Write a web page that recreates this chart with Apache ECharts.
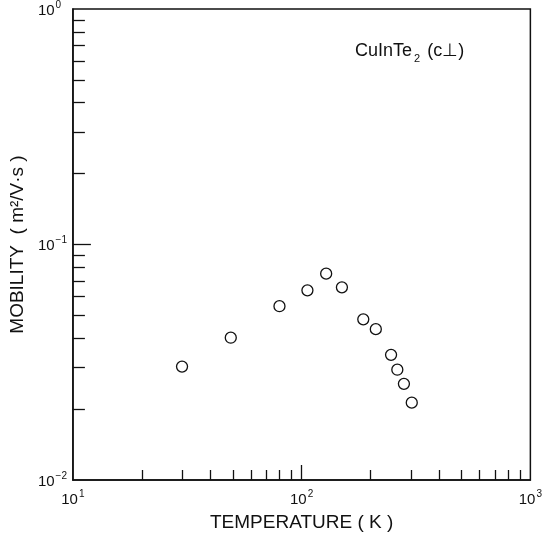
<!DOCTYPE html>
<html>
<head>
<meta charset="utf-8">
<script src="https://cdn.jsdelivr.net/npm/echarts@6/dist/echarts.min.js"></script>
<style>
html,body{margin:0;padding:0;background:#fff;}
#chart{width:545px;height:537px;}
</style>
</head>
<body>
<div id="chart"></div>
<script>
// Data (temperature in K, mobility in m^2/V·s)
const temperature = [30, 49, 80, 106, 128, 150, 186, 211, 246, 262, 280, 303];
const mobility = [0.0303, 0.0402, 0.0547, 0.0639, 0.0752, 0.0658, 0.0481, 0.0437, 0.0340, 0.0294, 0.0256, 0.0213];

// Axis ticks and labels
const xLabelValues = [10, 100, 1000];
const xLabelExponents = ['1', '2', '3'];
const xMinorTicks = [20, 30, 40, 50, 60, 70, 80, 90, 200, 300, 400, 500, 600, 700, 800, 900];
const xMajorTicks = [100];
const yLabelValues = [0.01, 0.1, 1];
const yLabelExponents = ['\u22122', '\u22121', '0'];
const yMinorTicks = [0.02, 0.03, 0.04, 0.05, 0.06, 0.07, 0.08, 0.09, 0.2, 0.3, 0.4, 0.5, 0.6, 0.7, 0.8, 0.9];
const yMajorTicks = [0.1];

const xTitle = 'TEMPERATURE ( K )';
const yTitle = 'MOBILITY  ( m\u00B2/V\u00B7s )';
const sampleLabel = ['CuInTe', '2', ' (c\u22A5)'];

const FONT = '"Liberation Sans", Arial, sans-serif';
const INK = '#111';

function expLabel(values, exps) {
  return function (v) {
    for (let i = 0; i < values.length; i++) {
      if (Math.abs(Math.log10(v) - Math.log10(values[i])) < 1e-6) {
        return '{b|10}{s|' + exps[i] + '}';
      }
    }
    return '';
  };
}
const labelRich = {
  b: { fontSize: 15, fontFamily: FONT, color: INK, lineHeight: 18, verticalAlign: 'bottom' },
  s: { fontSize: 10, fontFamily: FONT, color: INK, lineHeight: 18, verticalAlign: 'top', padding: [0, 0, 0, 1] }
};

const chart = echarts.init(document.getElementById('chart'), null, { renderer: 'canvas' });
const option = {
  animation: false,
  backgroundColor: '#fff',
  grid: {
    left: 70, right: 5, top: 6, bottom: 57,
    show: true, borderColor: INK, borderWidth: 1.5, backgroundColor: 'transparent'
  },
  xAxis: [
    {
      type: 'log', logBase: 10, min: 10, max: 1000, position: 'bottom',
      name: xTitle, nameLocation: 'middle', nameGap: 33,
      nameTextStyle: { fontSize: 19, fontFamily: FONT, color: INK },
      axisLine: { show: true, lineStyle: { color: INK, width: 1.5 } },
      axisTick: { show: true, inside: true, length: 10, customValues: xMinorTicks, lineStyle: { color: INK, width: 1.3 } },
      axisLabel: { show: true, margin: 9, customValues: xLabelValues, formatter: expLabel(xLabelValues, xLabelExponents), rich: labelRich, showMinLabel: true, showMaxLabel: true },
      splitLine: { show: false }, minorTick: { show: false }
    },
    {
      type: 'log', logBase: 10, min: 10, max: 1000, position: 'bottom',
      axisLine: { show: false },
      axisTick: { show: true, inside: true, length: 15, customValues: xMajorTicks, lineStyle: { color: INK, width: 1.3 } },
      axisLabel: { show: false }, splitLine: { show: false }
    }
  ],
  yAxis: [
    {
      type: 'log', logBase: 10, min: 0.01, max: 1, position: 'left',
      name: yTitle, nameLocation: 'middle', nameGap: 41, nameRotate: 90,
      nameTextStyle: { fontSize: 19, fontFamily: FONT, color: INK },
      axisLine: { show: true, lineStyle: { color: INK, width: 1.5 } },
      axisTick: { show: true, inside: true, length: 12, customValues: yMinorTicks, lineStyle: { color: INK, width: 1.3 } },
      axisLabel: { show: true, margin: 35, align: 'left', customValues: yLabelValues, formatter: expLabel(yLabelValues, yLabelExponents), rich: labelRich, showMinLabel: true, showMaxLabel: true },
      splitLine: { show: false }, minorTick: { show: false }
    },
    {
      type: 'log', logBase: 10, min: 0.01, max: 1, position: 'left',
      axisLine: { show: false },
      axisTick: { show: true, inside: true, length: 18, customValues: yMajorTicks, lineStyle: { color: INK, width: 1.3 } },
      axisLabel: { show: false }, splitLine: { show: false }
    }
  ],
  graphic: [
    {
      type: 'text', left: 355, top: 42,
      style: {
        text: '{a|' + sampleLabel[0] + '}{sub|' + sampleLabel[1] + '}{a|' + sampleLabel[2] + '}',
        rich: {
          a: { fontSize: 18, fontFamily: FONT, fill: INK, lineHeight: 22, verticalAlign: 'top' },
          sub: { fontSize: 11, fontFamily: FONT, fill: INK, lineHeight: 22, verticalAlign: 'bottom', padding: [0, 2, 0, 2] }
        }
      }
    }
  ],
  series: [
    {
      type: 'scatter', xAxisIndex: 0, yAxisIndex: 0,
      data: temperature.map((t, i) => [t, mobility[i]]),
      symbol: 'circle', symbolSize: 11,
      itemStyle: { color: '#fff', borderColor: INK, borderWidth: 1.3, opacity: 1 },
      emphasis: { disabled: true }
    }
  ]
};
chart.setOption(option);
</script>
</body>
</html>
